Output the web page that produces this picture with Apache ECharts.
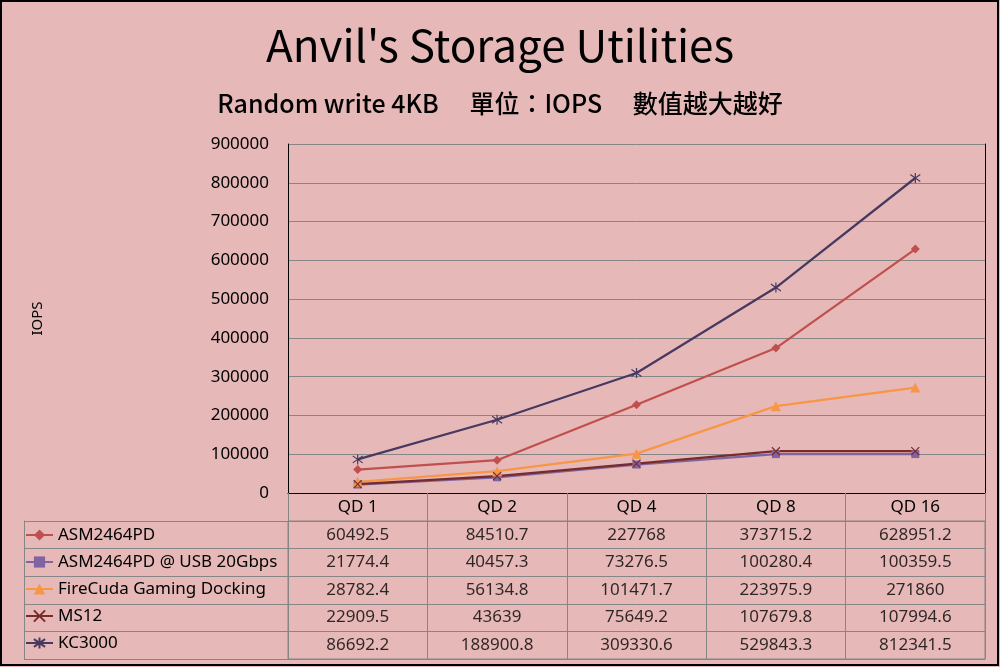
<!DOCTYPE html>
<html>
<head>
<meta charset="utf-8">
<script src="https://cdn.jsdelivr.net/npm/echarts@6/dist/echarts.min.js"></script>
<style>
html,body{margin:0;padding:0;background:#E6B9B8;}
#main{width:1000px;height:667px;}
</style>
</head>
<body>
<div id="main"></div>
<script>
// ---- data ----
const categories = ['QD 1', 'QD 2', 'QD 4', 'QD 8', 'QD 16'];
const seriesNames = ['ASM2464PD', 'ASM2464PD @ USB 20Gbps', 'FireCuda Gaming Docking', 'MS12', 'KC3000'];
const asm2464pd = [60492.5, 84510.7, 227768, 373715.2, 628951.2];
const asmUsb20 = [21774.4, 40457.3, 73276.5, 100280.4, 100359.5];
const fireCuda = [28782.4, 56134.8, 101471.7, 223975.9, 271860];
const ms12 = [22909.5, 43639, 75649.2, 107679.8, 107994.6];
const kc3000 = [86692.2, 188900.8, 309330.6, 529843.3, 812341.5];
const yMin = 0, yMax = 900000, yInterval = 100000;
const titleText = "Anvil's Storage Utilities";
const subtitleText = 'Random write 4KB\u3000 單位：IOPS\u3000 數值越大越好';
const yAxisName = 'IOPS';

// ---- styles ----
const seriesValues = [asm2464pd, asmUsb20, fireCuda, ms12, kc3000];
const colors = ['#C0504D', '#8064A2', '#F79646', '#772C2A', '#47395F'];
const symbols = [
  'diamond',
  'rect',
  'triangle',
  'path://M0,0L10,10M10,0L0,10',
  'path://M5,0L5,10M0,1.5L10,8.5M10,1.5L0,8.5'
];
const symbolSizes = [9, 8, 10, 8, 10];
const gridGray = '#868686';
const numFont = 'Noto Sans, sans-serif';
const cjkFont = '"Noto Sans CJK TC", "Noto Sans", sans-serif';

const lineSeries = seriesNames.map((name, i) => {
  const stroked = i >= 3;
  return {
    name: name,
    type: 'line',
    xAxisIndex: 0,
    yAxisIndex: 0,
    data: seriesValues[i],
    symbol: symbols[i],
    symbolSize: symbolSizes[i],
    showSymbol: true,
    lineStyle: {color: colors[i], width: 2.25},
    itemStyle: stroked
      ? {color: 'rgba(0,0,0,0)', borderColor: colors[i], borderWidth: 1.2}
      : {color: colors[i], borderColor: colors[i], borderWidth: 0},
    emphasis: {disabled: true},
    z: 3
  };
});

const tableData = [];
seriesValues.forEach((vals, si) => {
  vals.forEach((v, ci) => tableData.push([ci, si, v]));
});

const option = {
  backgroundColor: '#E6B9B8',
  animation: false,
  color: colors,
  title: [
    {
      text: titleText, left: 'center', top: 18,
      textStyle: {fontFamily: cjkFont, fontSize: 44, fontWeight: 'normal', color: '#000'}
    },
    {
      text: subtitleText, left: 'center', top: 86,
      textStyle: {fontFamily: cjkFont, fontSize: 25, fontWeight: 500, color: '#000'}
    }
  ],
  legend: {
    data: seriesNames,
    orient: 'vertical',
    left: 25, top: 526.5,
    padding: 0,
    itemWidth: 27, itemHeight: 14, itemGap: 10,
    selectedMode: false,
    textStyle: {fontFamily: numFont, fontSize: 17, color: '#000'}
  },
  grid: [
    {left: 288, right: 15, top: 144, height: 349, containLabel: false},
    {left: 288, right: 15, top: 521, height: 138, show: true, borderColor: gridGray, borderWidth: 1, backgroundColor: 'transparent'}
  ],
  xAxis: [
    {
      type: 'category', gridIndex: 0, data: categories, position: 'bottom', boundaryGap: true,
      axisLine: {show: true, lineStyle: {color: gridGray, width: 1}},
      axisTick: {show: true, length: 28, inside: false, lineStyle: {color: gridGray, width: 1}},
      axisLabel: {margin: 6, fontFamily: numFont, fontSize: 17, color: '#000'},
      splitLine: {show: false}
    },
    {
      type: 'category', gridIndex: 0, data: categories, position: 'top', boundaryGap: true,
      axisLine: {show: true, lineStyle: {color: '#000', width: 1}},
      axisTick: {show: false}, axisLabel: {show: false}, splitLine: {show: false}
    },
    {
      type: 'category', gridIndex: 1, data: categories, position: 'bottom', boundaryGap: true,
      axisLine: {show: true, lineStyle: {color: gridGray}},
      axisTick: {show: false}, axisLabel: {show: false},
      splitLine: {show: true, lineStyle: {color: gridGray, width: 1}}
    }
  ],
  yAxis: [
    {
      type: 'value', gridIndex: 0, min: yMin, max: yMax, interval: yInterval, position: 'left',
      name: yAxisName, nameLocation: 'middle', nameRotate: 90, nameGap: 243,
      nameTextStyle: {fontFamily: numFont, fontSize: 15, color: '#000'},
      axisLine: {show: true, lineStyle: {color: '#000', width: 1}},
      axisTick: {show: false},
      axisLabel: {margin: 19, fontFamily: numFont, fontSize: 17, color: '#000', formatter: v => String(v)},
      splitLine: {show: true, lineStyle: {color: gridGray, width: 1}}
    },
    {
      type: 'value', gridIndex: 0, min: yMin, max: yMax, interval: yInterval, position: 'right',
      axisLine: {show: true, lineStyle: {color: '#000', width: 1}},
      axisTick: {show: false}, axisLabel: {show: false}, splitLine: {show: false}
    },
    {
      type: 'category', gridIndex: 1, data: seriesNames, inverse: true, position: 'left', boundaryGap: true,
      axisLine: {show: true, lineStyle: {color: gridGray}},
      axisTick: {show: true, length: 264, inside: false, lineStyle: {color: gridGray, width: 1}},
      axisLabel: {show: false},
      splitLine: {show: true, lineStyle: {color: gridGray, width: 1}}
    },
    {
      type: 'value', gridIndex: 1, min: 0, max: 1, position: 'left', offset: 264,
      axisLine: {show: true, lineStyle: {color: gridGray}},
      axisTick: {show: false}, axisLabel: {show: false}, splitLine: {show: false}
    }
  ],
  graphic: [
    {
      type: 'rect', silent: true, z: 100,
      shape: {x: 1, y: 1, width: 997, height: 664},
      style: {fill: 'none', stroke: '#000', lineWidth: 2}
    }
  ],
  series: lineSeries.concat([
    {
      name: 'table',
      type: 'scatter',
      xAxisIndex: 2,
      yAxisIndex: 2,
      data: tableData,
      symbolSize: 1,
      itemStyle: {color: 'rgba(0,0,0,0)'},
      emphasis: {disabled: true},
      label: {
        show: true, position: 'inside',
        formatter: p => String(p.value[2]),
        fontFamily: numFont, fontSize: 17, color: '#000'
      },
      silent: true
    }
  ])
};

const chart = echarts.init(document.getElementById('main'), null, {renderer: 'canvas'});
chart.setOption(option);
</script>
</body>
</html>
